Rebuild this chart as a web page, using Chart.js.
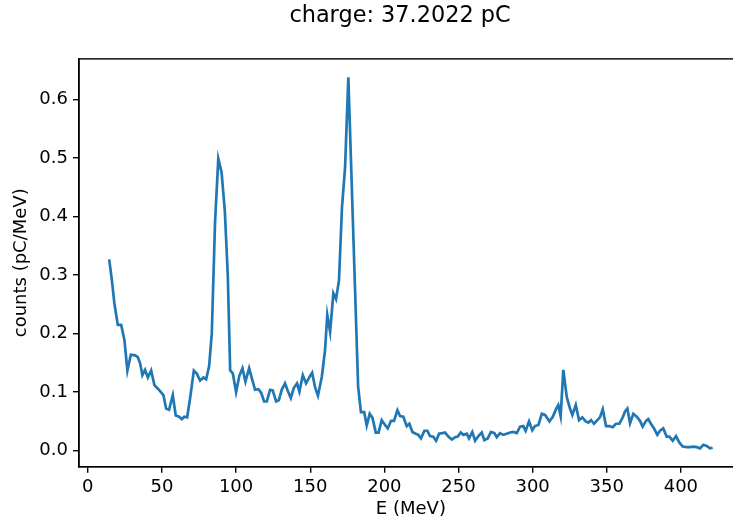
<!DOCTYPE html>
<html>
<head>
<meta charset="utf-8">
<script src="https://cdn.jsdelivr.net/npm/chart.js@4"></script>
<style>
  html, body { margin: 0; padding: 0; background: #fff; overflow: hidden; }
  #wrap { width: 733px; height: 523px; overflow: hidden; }
</style>
</head>
<body>
<div id="wrap"><canvas id="spectrum" width="800" height="523"></canvas></div>
<script>
// energy bins (MeV)
var energy = [
  14.4, 16.2, 17.9, 20.2, 22.5, 24.7, 26.7, 29.0, 31.9, 33.7,
  35.3, 36.8, 38.6, 40.5, 42.7, 44.9, 47.6, 49.3, 51.0, 52.8,
  54.8, 57.3, 59.3, 61.6, 63.4, 65.1, 67.0, 69.0, 71.5, 73.5,
  75.7, 78.0, 79.8, 81.8, 83.6, 85.8, 88.0, 90.2, 92.4, 94.4,
  96.0, 97.8, 100.0, 102.2, 104.3, 106.3, 108.8, 110.6, 112.8, 115.0,
  116.9, 118.9, 120.7, 122.9, 124.7, 127.0, 128.8, 130.8, 133.0, 134.9,
  136.9, 138.9, 141.1, 142.7, 145.0, 147.2, 149.5, 151.3, 153.3, 155.2,
  157.8, 160.0, 161.5, 163.4, 165.6, 167.4, 169.4, 171.4, 173.5, 175.7,
  178.0, 180.2, 182.3, 184.2, 186.4, 188.1, 190.1, 192.0, 194.2, 196.1,
  198.2, 200.5, 202.3, 204.5, 206.5, 208.8, 210.6, 212.8, 215.1, 216.9,
  218.9, 221.2, 222.9, 224.7, 227.0, 229.0, 230.8, 233.0, 234.9, 236.9,
  239.1, 240.9, 243.2, 245.5, 247.7, 249.5, 251.5, 253.3, 255.6, 257.1,
  259.3, 261.2, 263.4, 265.7, 267.4, 269.7, 271.9, 274.2, 275.8, 278.0,
  280.2, 282.5, 284.8, 287.0, 289.3, 291.5, 293.7, 295.3, 297.6, 299.8,
  301.6, 303.9, 306.2, 308.4, 311.3, 313.6, 315.8, 317.3, 318.9, 320.7,
  323.0, 325.2, 326.8, 329.1, 331.3, 333.5, 335.8, 337.6, 339.4, 341.4,
  343.2, 345.4, 347.3, 349.5, 351.7, 354.0, 356.2, 358.5, 360.8, 362.3,
  363.9, 365.7, 367.9, 370.2, 372.4, 374.2, 376.5, 378.0, 379.8, 382.1,
  384.1, 385.9, 388.1, 390.4, 392.2, 394.5, 396.7, 398.9, 401.2, 403.9,
  406.1, 408.4, 410.7, 412.9, 415.1, 417.4, 419.6, 421.4
];
// counts (pC/MeV)
var counts = [
  0.327, 0.292, 0.252, 0.215, 0.215, 0.189, 0.137, 0.164, 0.163, 0.160,
  0.149, 0.129, 0.138, 0.125, 0.137, 0.112, 0.105, 0.100, 0.095, 0.072,
  0.070, 0.095, 0.060, 0.058, 0.054, 0.058, 0.057, 0.090, 0.137, 0.132,
  0.120, 0.125, 0.122, 0.144, 0.200, 0.390, 0.499, 0.476, 0.410, 0.300,
  0.137, 0.132, 0.100, 0.128, 0.141, 0.118, 0.141, 0.124, 0.104, 0.105,
  0.099, 0.084, 0.084, 0.104, 0.103, 0.084, 0.086, 0.104, 0.115, 0.102,
  0.090, 0.107, 0.115, 0.101, 0.129, 0.115, 0.126, 0.133, 0.108, 0.094,
  0.126, 0.172, 0.232, 0.203, 0.269, 0.259, 0.291, 0.415, 0.484, 0.638,
  0.455, 0.278, 0.110, 0.066, 0.066, 0.043, 0.063, 0.056, 0.031, 0.031,
  0.052, 0.044, 0.038, 0.051, 0.051, 0.069, 0.059, 0.058, 0.042, 0.046,
  0.032, 0.029, 0.027, 0.021, 0.034, 0.034, 0.025, 0.024, 0.017, 0.029,
  0.030, 0.031, 0.024, 0.019, 0.023, 0.024, 0.031, 0.027, 0.029, 0.021,
  0.032, 0.017, 0.025, 0.031, 0.018, 0.021, 0.032, 0.030, 0.023, 0.030,
  0.027, 0.029, 0.031, 0.032, 0.030, 0.041, 0.042, 0.034, 0.050, 0.035,
  0.042, 0.044, 0.063, 0.061, 0.050, 0.058, 0.071, 0.078, 0.059, 0.138,
  0.092, 0.072, 0.061, 0.078, 0.052, 0.057, 0.050, 0.048, 0.052, 0.046,
  0.051, 0.057, 0.071, 0.042, 0.042, 0.040, 0.046, 0.046, 0.057, 0.067,
  0.072, 0.047, 0.063, 0.058, 0.051, 0.041, 0.051, 0.054, 0.046, 0.037,
  0.027, 0.034, 0.038, 0.024, 0.024, 0.017, 0.025, 0.014, 0.007, 0.006,
  0.006, 0.007, 0.006, 0.004, 0.010, 0.008, 0.004, 0.005
];
var xTicks = [0, 50, 100, 150, 200, 250, 300, 350, 400];
var yTicks = [0.0, 0.1, 0.2, 0.3, 0.4, 0.5, 0.6];

var points = energy.map(function(e, i) { return {x: e, y: counts[i]}; });

var font = "'DejaVu Sans', sans-serif";

// matplotlib-like frame: top and right spines
var frame = {
  id: 'frame',
  afterDraw: function(chart) {
    var a = chart.chartArea, c = chart.ctx;
    c.save();
    c.strokeStyle = '#000';
    c.lineWidth = 1.4;
    c.strokeRect(a.left, a.top, a.right - a.left, a.bottom - a.top);
    c.restore();
  }
};

window.onload = function() {
  var ctx = document.getElementById('spectrum').getContext('2d');
  new Chart(ctx, {
    type: 'line',
    data: {
      datasets: [{
        data: points,
        borderColor: '#1f77b4',
        borderWidth: 2.7,
        pointRadius: 0,
        tension: 0,
        fill: false
      }]
    },
    options: {
      responsive: false,
      animation: false,
      layout: { padding: 0 },
      plugins: {
        legend: { display: false },
        tooltip: { enabled: false },
        title: {
          display: true,
          text: 'charge: 37.2022 pC',
          color: '#000',
          font: { family: font, size: 22.4, weight: 'normal' },
          padding: { top: 3, bottom: 29 }
        }
      },
      scales: {
        x: {
          type: 'linear',
          min: -5.95,
          max: 441.75,
          afterFit: function(s) { s.height = 56.3; },
          afterBuildTicks: function(s) { s.ticks = xTicks.map(function(v) { return {value: v}; }); },
          ticks: { color: '#000', font: { family: font, size: 18 }, padding: 4, maxRotation: 0 },
          grid: { drawOnChartArea: false, drawTicks: true, tickLength: 6, color: '#000', lineWidth: 1.4 },
          border: { display: true, color: '#000', width: 1.4 },
          title: { display: true, text: 'E (MeV)', color: '#000', font: { family: font, size: 18 }, padding: { top: 0, bottom: 3 } }
        },
        y: {
          type: 'linear',
          min: -0.0274,
          max: 0.6696,
          afterFit: function(s) { s.width = 79; },
          afterBuildTicks: function(s) { s.ticks = yTicks.map(function(v) { return {value: v}; }); },
          ticks: { color: '#000', font: { family: font, size: 18 }, padding: 5,
                   callback: function(v) { return v.toFixed(1); } },
          grid: { drawOnChartArea: false, drawTicks: true, tickLength: 6, color: '#000', lineWidth: 1.4 },
          border: { display: true, color: '#000', width: 1.4 },
          title: { display: true, text: 'counts (pC/MeV)', color: '#000', font: { family: font, size: 18 }, padding: { top: 11, bottom: 0 } }
        },
        // empty right-hand margin so the figure title stays centred on the full canvas
        margin: {
          type: 'linear',
          position: 'right',
          display: true,
          afterFit: function(s) { s.width = 57.2; },
          ticks: { display: false },
          grid: { display: false },
          border: { display: false }
        }
      }
    },
    plugins: [frame]
  });
};
</script>
</body>
</html>
